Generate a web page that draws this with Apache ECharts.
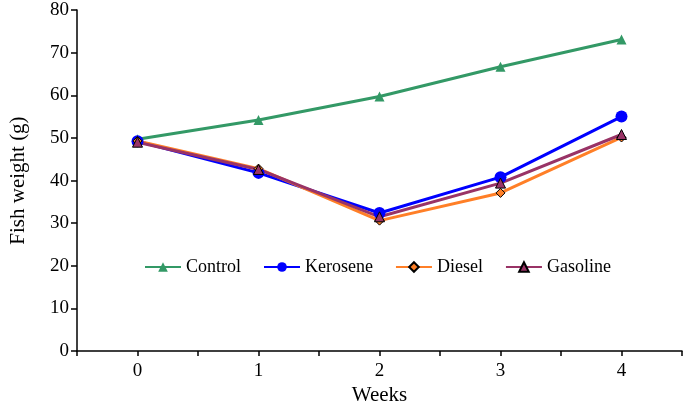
<!DOCTYPE html>
<html>
<head>
<meta charset="utf-8">
<script src="https://cdn.jsdelivr.net/npm/echarts@6/dist/echarts.min.js"></script>
<style>html,body{margin:0;padding:0;background:#fff}#c{width:685px;height:411px}</style>
</head>
<body>
<div id="c"></div>
<script>
var weeks = [0, 1, 2, 3, 4];
var control = [49.7, 54.2, 59.7, 66.7, 73.1];
var kerosene = [49.2, 41.8, 32.4, 40.8, 55.0];
var diesel = [49.3, 42.8, 30.6, 37.1, 50.1];
var gasoline = [49.0, 42.6, 31.5, 39.4, 50.8];
var yTicks = [0, 10, 20, 30, 40, 50, 60, 70, 80];

function pairs(v){ return weeks.map(function(w,i){ return [w, v[i]]; }); }
var font = 'Liberation Serif';
var chart = echarts.init(document.getElementById('c'));
chart.setOption({
  animation: false,
  grid: {left: 74, right: 1, top: 10, bottom: 59},
  legend: {
    left: 139, top: 253,
    itemWidth: 36, itemHeight: 12, itemGap: 22,
    textStyle: {fontFamily: font, fontSize: 18, color: '#000'},
    data: ['Control','Kerosene','Diesel','Gasoline']
  },
  xAxis: {
    type: 'value', min: -0.5, max: 4.5, interval: 0.5,
    name: 'Weeks', nameLocation: 'middle', nameGap: 33,
    nameTextStyle: {fontFamily: font, fontSize: 21, color: '#000'},
    axisLine: {onZero: false, lineStyle: {color: '#000', width: 1.5}},
    axisTick: {show: true, length: 5, lineStyle: {color: '#000', width: 1.5}},
    axisLabel: {fontFamily: font, fontSize: 19, color: '#000', margin: 10,
      formatter: function(v){ return Number.isInteger(v) && weeks.indexOf(v) >= 0 ? String(v) : ''; }},
    splitLine: {show: false}
  },
  yAxis: {
    type: 'value', min: yTicks[0], max: yTicks[yTicks.length-1], interval: 10,
    name: 'Fish weight (g)', nameLocation: 'middle', nameGap: 48,
    nameTextStyle: {fontFamily: font, fontSize: 21, color: '#000'},
    axisLine: {show: true, onZero: false, lineStyle: {color: '#000', width: 1.5}},
    axisTick: {show: true, length: 6, lineStyle: {color: '#000', width: 1.5}},
    axisLabel: {fontFamily: font, fontSize: 19, color: '#000', margin: 8},
    splitLine: {show: false}
  },
  series: [
    {name: 'Control', type: 'line', data: pairs(control), symbol: 'triangle', symbolSize: 10,
     lineStyle: {color: '#339966', width: 3}, itemStyle: {color: '#339966'}},
    {name: 'Kerosene', type: 'line', data: pairs(kerosene), symbol: 'circle', symbolSize: 12,
     lineStyle: {color: '#0000ff', width: 3}, itemStyle: {color: '#0000ff'}},
    {name: 'Diesel', type: 'line', data: pairs(diesel), symbol: 'diamond', symbolSize: 9,
     lineStyle: {color: '#ff7f27', width: 3}, itemStyle: {color: '#ff7f27', borderColor: '#000', borderWidth: 1}},
    {name: 'Gasoline', type: 'line', data: pairs(gasoline), symbol: 'triangle', symbolSize: 10,
     lineStyle: {color: '#993366', width: 3}, itemStyle: {color: '#993366', borderColor: '#000', borderWidth: 1}}
  ]
});
</script>
</body>
</html>
